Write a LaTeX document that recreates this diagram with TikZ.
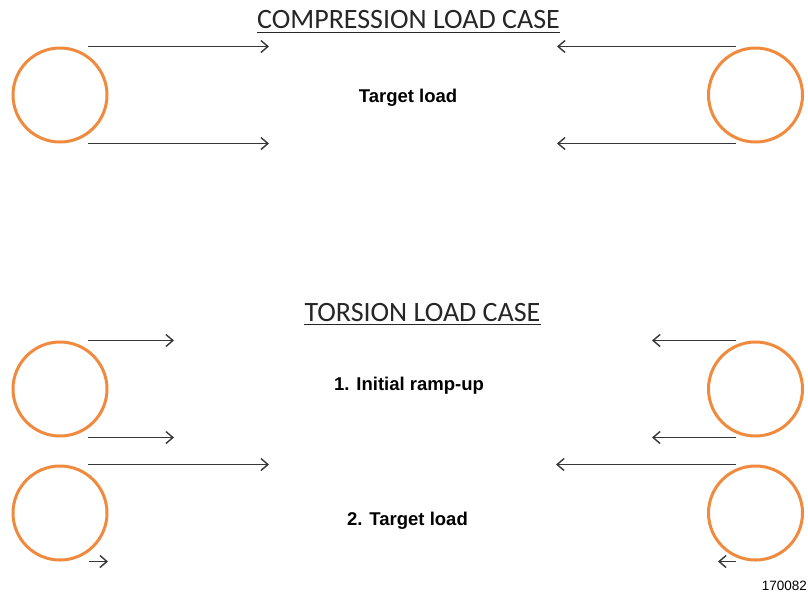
\documentclass[tikz,border=0pt]{standalone}
\usepackage{fontspec}
\setmainfont{Liberation Sans}
\newfontfamily\headfont{Carlito}
\usetikzlibrary{arrows.meta}
\definecolor{ringorange}{RGB}{240,138,62}
\definecolor{loadgray}{RGB}{55,55,55}
\tikzset{
  ring/.style={circle,draw=ringorange,line width=3pt,minimum size=94pt,inner sep=0pt},
  load/.style={draw=loadgray,line width=1.4pt,->},
  heading/.style={font=\headfont\fontsize{28}{30}\selectfont,text=black!85,anchor=base,inner sep=0pt},
  caption/.style={font=\bfseries\fontsize{18.5}{20}\selectfont,anchor=base,inner sep=0pt},
  uline/.style={line width=1.7pt,black!85}
}
\begin{document}
\begin{tikzpicture}[x=1pt,y=-1pt,>={Straight Barb[length=7pt,width=12pt]}]
\useasboundingbox (0,0) rectangle (808,598);
% compression load case
\node[heading] (comptitle) at (408.5,28.5) {COMPRESSION LOAD CASE};
\draw[uline] ([yshift=-4pt]comptitle.base west) -- ([yshift=-4pt]comptitle.base east);
\node[caption] (comptarget) at (408,102) {Target load};
\node[ring] (compl) at (60,95) {};
\node[ring] (compr) at (755.5,95) {};
\draw[load] ([xshift=28pt]compl.north) -- ++(181,0);
\draw[load] ([xshift=28pt]compl.south) -- ++(181,0);
\draw[load] ([xshift=-19.5pt]compr.north) -- ++(-179,0);
\draw[load] ([xshift=-19.5pt]compr.south) -- ++(-179,0);
% torsion load case
\node[heading] (tortitle) at (422.5,321) {TORSION LOAD CASE};
\draw[uline] ([yshift=-3.5pt]tortitle.base west) -- ([yshift=-3.5pt]tortitle.base east);
\node[caption] (torramp) at (409,390) {1. Initial ramp-up};
\node[caption] (tortarget) at (407.5,525) {2. Target load};
\node[ring] (torlup) at (60,389) {};
\node[ring] (torldown) at (60,513) {};
\node[ring] (torrup) at (755.5,389) {};
\node[ring] (torrdown) at (755.5,513) {};
\draw[load] ([xshift=28pt]torlup.north) -- ++(86,0);
\draw[load] ([xshift=28pt]torlup.south) -- ++(86,0);
\draw[load] ([xshift=28pt]torldown.north) -- ++(181,0);
\draw[load] ([xshift=29pt]torldown.south) -- ++(19,0);
\draw[load] ([xshift=-19.5pt]torrup.north) -- ++(-84,0);
\draw[load] ([xshift=-19.5pt]torrup.south) -- ++(-84,0);
\draw[load] ([xshift=-19.5pt]torrdown.north) -- ++(-180,0);
\draw[load] ([xshift=-19.5pt]torrdown.south) -- ++(-18,0);
\node[anchor=base east,inner sep=0pt,font=\fontsize{13.5}{15}\selectfont] (figno) at (807,590) {170082};
\end{tikzpicture}
\end{document}
